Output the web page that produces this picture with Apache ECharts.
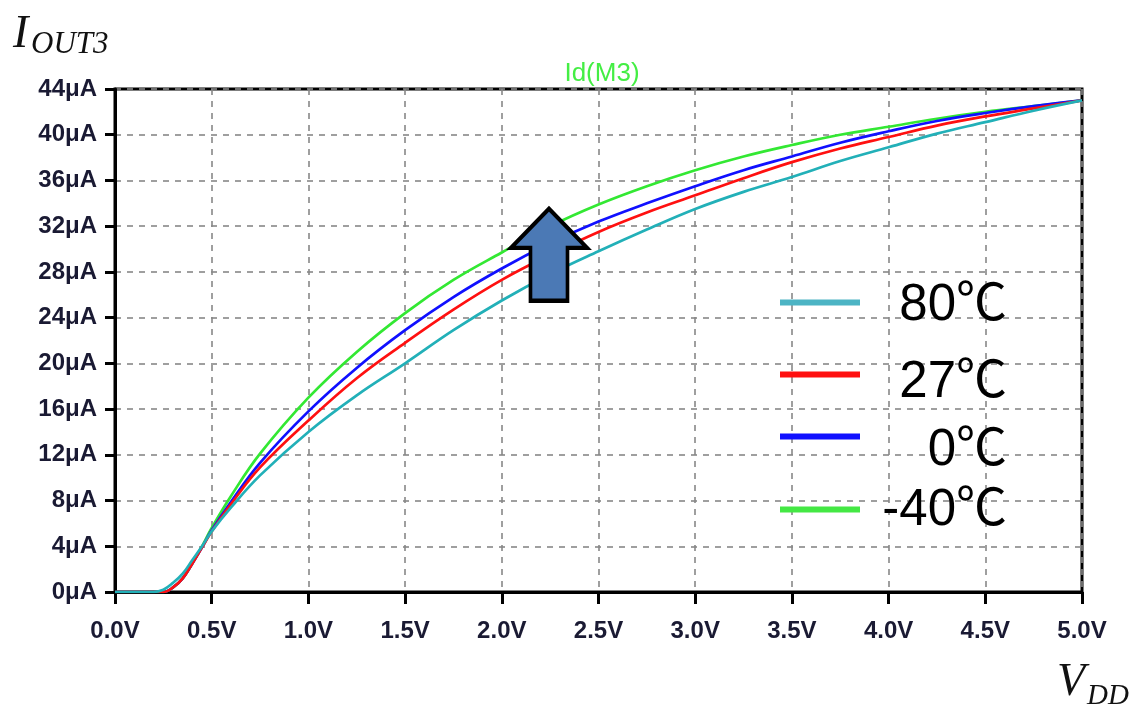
<!DOCTYPE html>
<html>
<head>
<meta charset="utf-8">
<script src="https://cdn.jsdelivr.net/npm/echarts@6/dist/echarts.min.js"></script>
<style>html,body{margin:0;padding:0;background:#fff;}#c{width:1130px;height:711px;}</style>
</head>
<body>
<div id="c"></div>
<script>
// Data
const vdd = [0, 0.2, 0.25, 0.3, 0.35, 0.4, 0.45, 0.5, 0.6, 0.75, 1.0, 1.25, 1.5, 1.75, 2.0, 2.25, 2.5, 2.75, 3.0, 3.25, 3.5, 3.75, 4.0, 4.25, 4.5, 4.75, 5.0];
const i80  = [0, 0, 0.2, 0.8, 1.6, 2.8, 4.0, 5.3, 7.4, 10.2, 14.0, 17.2, 20.0, 22.9, 25.5, 27.8, 29.8, 31.7, 33.5, 35.0, 36.3, 37.7, 38.9, 40.1, 41.1, 42.1, 43.0];
const i27  = [0, 0, 0.0, 0.4, 1.2, 2.5, 3.9, 5.3, 7.7, 10.9, 15.0, 18.7, 21.8, 24.7, 27.3, 29.5, 31.5, 33.2, 34.7, 36.2, 37.6, 38.8, 39.8, 40.8, 41.6, 42.3, 43.0];
const i0   = [0, 0, 0.0, 0.4, 1.2, 2.5, 3.9, 5.4, 7.9, 11.3, 15.8, 19.6, 22.9, 25.8, 28.3, 30.5, 32.4, 34.0, 35.5, 36.9, 38.1, 39.3, 40.3, 41.2, 41.9, 42.5, 43.0];
const im40 = [0, 0, 0.0, 0.4, 1.2, 2.5, 4.0, 5.6, 8.4, 12.1, 17.0, 21.0, 24.4, 27.3, 29.7, 32.0, 33.9, 35.5, 36.9, 38.1, 39.1, 40.0, 40.7, 41.4, 42.0, 42.5, 43.0];
const seriesNames = ['80℃', '27℃', '0℃', '-40℃'];
const yTickUnit = 'μA';
const xTickUnit = 'V';
const arrowAt = [2.244, 29.5];

const colors = {'80℃':'#22b0b8', '27℃':'#ff1010', '0℃':'#1010ff', '-40℃':'#33e833'};
const legendIconColors = {'80℃':'#4cb4c4', '27℃':'#ff1010', '0℃':'#1010ff', '-40℃':'#44e844'};
const zip = (ys) => vdd.map((v, k) => [v, ys[k]]);

const chart = echarts.init(document.getElementById('c'));
const labelFont = "'Liberation Sans', Arial, sans-serif";
const legendFont = "'Liberation Sans', 'Noto Sans CJK SC', sans-serif";

function mkSeries(name, ys, z) {
  return {
    name: name, type: 'line', data: zip(ys), smooth: 0.4, showSymbol: false, z: z,
    lineStyle: {color: colors[name], width: 2.7},
    itemStyle: {color: legendIconColors[name]},
    emphasis: {disabled: true}
  };
}
const legendRows = [
  {name: '80℃', top: 274, pad: 6},
  {name: '27℃', top: 341, pad: 16},
  {name: '0℃', top: 397, pad: 28},
  {name: '-40℃', top: 483, pad: 2}
];
const legends = legendRows.map(r => ({
  data: [{name: r.name, icon: 'rect', itemStyle: {color: legendIconColors[r.name]}}],
  left: 780, top: r.top, padding: 0, itemWidth: 80, itemHeight: 6, selectedMode: false,
  formatter: n => '{a|' + n + '}',
  textStyle: {rich: {a: {fontSize: 51, fontFamily: legendFont, color: '#000', width: 142, align: 'right', lineHeight: 58, padding: [r.pad, 0, 0, 0]}}}
}));

const s80 = mkSeries('80℃', i80, 5);
const s27 = mkSeries('27℃', i27, 4);
const s0 = mkSeries('0℃', i0, 3);
const sm40 = mkSeries('-40℃', im40, 2);
s80.markPoint = {
  silent: true,
  data: [{coord: arrowAt}],
  symbol: 'path://M39,0 L78,40 L58,40 L58,94 L20,94 L20,40 L0,40 Z',
  symbolSize: [76, 92],
  itemStyle: {color: '#4b79b5', borderColor: '#000', borderWidth: 4},
  label: {show: false},
  z: 10
};

chart.setOption({
  animation: false,
  backgroundColor: '#fff',
  title: {
    text: 'Id(M3)', left: 597, top: 56, textAlign: 'center',
    textStyle: {color: '#44ee44', fontSize: 26, fontWeight: 'normal', fontFamily: labelFont}
  },
  legend: legends,
  grid: {left: 115, right: 48, top: 89, bottom: 119, show: true, borderColor: '#000', borderWidth: 3, backgroundColor: 'transparent'},
  xAxis: {
    type: 'value', min: 0, max: 5, interval: 0.5,
    axisLine: {show: true, lineStyle: {color: '#000', width: 3}},
    axisTick: {show: true, length: 12, lineStyle: {color: '#000', width: 3}},
    axisLabel: {formatter: v => v.toFixed(1) + xTickUnit, margin: 27, fontSize: 24, fontWeight: 'bold', fontFamily: labelFont, color: '#1a1a33'},
    splitLine: {show: true, lineStyle: {color: '#888', width: 1.6, type: [6, 6]}}
  },
  yAxis: {
    type: 'value', min: 0, max: 44, interval: 4,
    axisLine: {show: true, lineStyle: {color: '#000', width: 3}},
    axisTick: {show: true, length: 10, lineStyle: {color: '#000', width: 3}},
    axisLabel: {formatter: v => v + yTickUnit, margin: 18, fontSize: 24, fontWeight: 'bold', fontFamily: labelFont, color: '#1a1a33'},
    splitLine: {show: true, lineStyle: {color: '#888', width: 1.6, type: [6, 6]}}
  },
  graphic: [
    {type: 'text', left: 13, top: 12, style: {text: 'I', font: 'italic 46px "Liberation Serif", serif', fill: '#111'}},
    {type: 'text', left: 31, top: 29, style: {text: 'OUT3', font: 'italic 31px "Liberation Serif", serif', fill: '#111'}},
    {type: 'text', left: 1057, top: 660, style: {text: 'V', font: 'italic 46px "Liberation Serif", serif', fill: '#111'}},
    {type: 'text', left: 1087, top: 682, style: {text: 'DD', font: 'italic 29px "Liberation Serif", serif', fill: '#111'}}
  ],
  series: [sm40, s0, s27, s80]
});
</script>
</body>
</html>
